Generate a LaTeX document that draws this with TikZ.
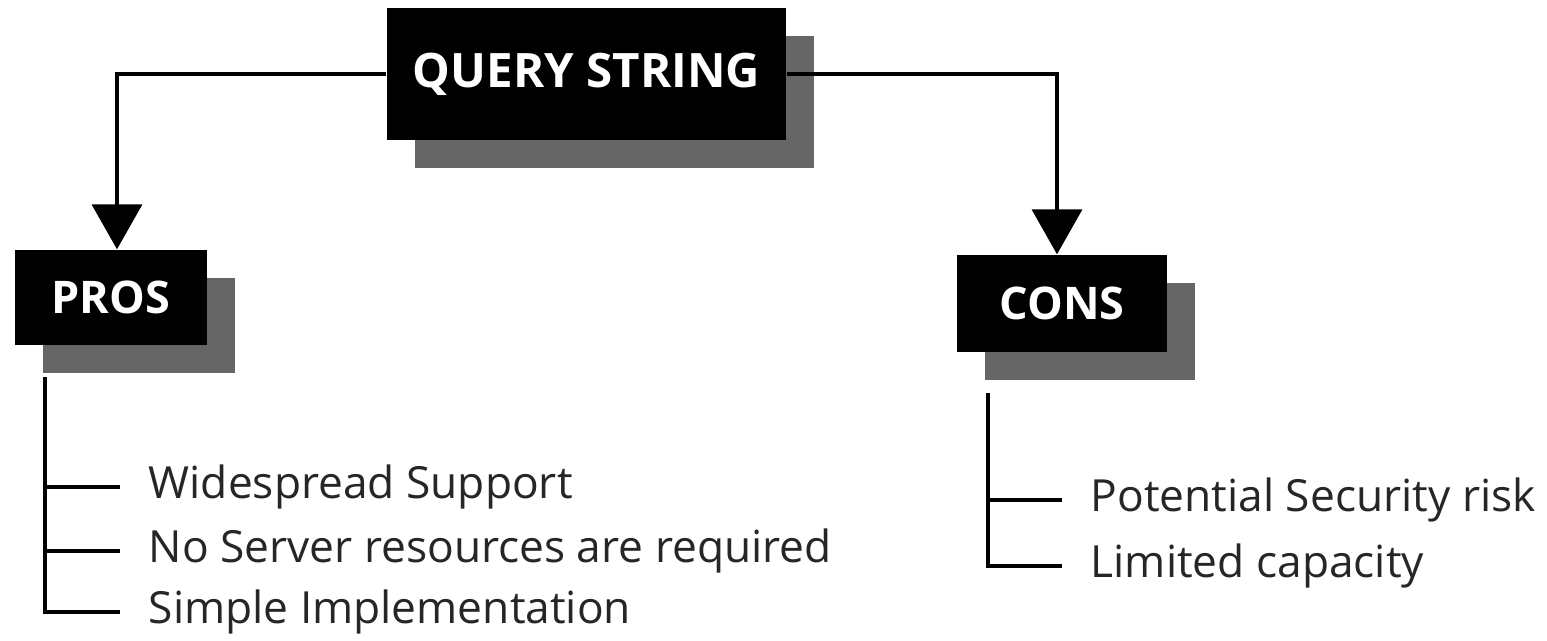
\documentclass[tikz,border=0pt]{standalone}
\usepackage{fontspec}
\setmainfont{Open Sans}
\usetikzlibrary{arrows.meta,shadows,positioning}

\tikzset{
  headbox/.style={fill=black, text=white, inner sep=0pt,
    drop shadow={shadow xshift=2.8mm, shadow yshift=-2.8mm, fill=black!60, opacity=1}},
  link/.style={line width=1.1pt, -{Triangle[width=5mm,length=4.5mm]}},
  branch/.style={line width=1.1pt},
  item/.style={anchor=west, inner xsep=2.8mm, inner ysep=0pt, text=black!85,
    font=\fontsize{12.6}{15}\selectfont},
}

\begin{document}
\begin{tikzpicture}
    \useasboundingbox (0,0) rectangle (15.47,-6.40);

    % Head boxes.
    \node[headbox, minimum width=3.99cm, minimum height=1.32cm, font=\bfseries\fontsize{13.5}{16}\selectfont] (query) at (5.865,-0.74) {QUERY STRING};
    \node[headbox, minimum width=1.92cm, minimum height=0.95cm, font=\bfseries\fontsize{12.8}{15}\selectfont] (pros) at (1.11,-2.975) {PROS};
    \node[headbox, minimum width=2.10cm, minimum height=0.97cm, font=\bfseries\fontsize{12.8}{15}\selectfont] (cons) at (10.62,-3.035) {CONS};

    % Arrows down to the two sides.
    \draw[link] (query.west) -| ([xshift=0.6mm]pros.north);
    \draw[link] (query.east) -| ([xshift=-0.5mm]cons.north);

    % Pros list.
    \coordinate (prostop) at (0.45,-3.77);
    \node[item] (p1) at (1.20,-4.87) {Widespread Support};
    \node[item] (p2) at (1.20,-5.51) {No Server resources are required};
    \node[item] (p3) at (1.20,-6.12) {Simple Implementation};
    \draw[branch] (prostop) |- (p3.west);
    \draw[branch] (prostop |- p1.west) -- (p1.west);
    \draw[branch] (prostop |- p2.west) -- (p2.west);

    % Cons list.
    \coordinate (constop) at (9.88,-3.93);
    \node[item] (c1) at (10.62,-5.00) {Potential Security risk};
    \node[item] (c2) at (10.62,-5.66) {Limited capacity};
    \draw[branch] (constop) |- (c2.west);
    \draw[branch] (constop |- c1.west) -- (c1.west);
\end{tikzpicture}
\end{document}
